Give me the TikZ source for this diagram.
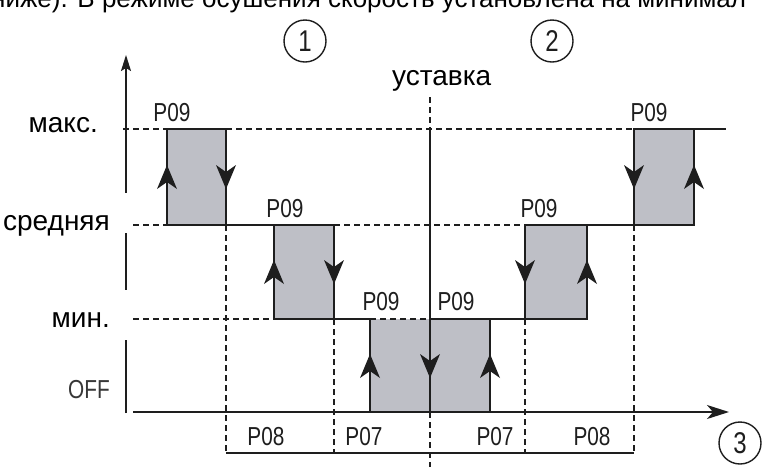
\documentclass[tikz,border=0pt]{standalone}
\usepackage{fontspec}
\setmainfont{Liberation Sans}
\newfontfamily\cond[FakeStretch=0.8]{Liberation Sans}
\usetikzlibrary{arrows.meta}
\definecolor{boxgray}{RGB}{190,191,198}
\definecolor{ink}{RGB}{30,30,30}
\definecolor{offgray}{RGB}{55,55,55}
\begin{document}
\begin{tikzpicture}[x=1pt,y=-1pt,
  ln/.style={draw=ink,line width=1.5pt},
  dsh/.style={draw=ink,line width=1.2pt,dash pattern=on 6pt off 4pt},
  headfill/.style={fill=ink,draw=none},
  fillbox/.style={fill=boxgray,draw=none},
  pl/.style={font=\cond\fontsize{26}{26}\selectfont,text=ink,inner sep=0pt},
  ru/.style={font=\fontsize{28}{28}\selectfont,text=black,inner sep=0pt},
  num/.style={circle,draw=ink,line width=1.4pt,minimum size=42pt,inner sep=0pt,font=\cond\fontsize{30}{30}\selectfont,text=ink}]
\useasboundingbox (0,0) rectangle (763,467);
\clip (0,0) rectangle (763,467);
\fill[white] (0,0) rectangle (763,467);
% top cut text
\node[font=\fontsize{26}{26}\selectfont,inner sep=0pt,anchor=base west] (toptext) at (-9,7) {ниже). В режиме осушения скорость установлена на минимал};
% gray boxes
\fill[fillbox] (167,129) rectangle (226,225);
\fill[fillbox] (274,225) rectangle (334,319);
\fill[fillbox] (370,319) rectangle (490,412);
\fill[fillbox] (525,225) rectangle (587,319);
\fill[fillbox] (634,129) rectangle (694,225);
% axes
\coordinate (yb) at (126,413);
\coordinate (yt) at (126,55);
\coordinate (xl) at (133,412);
\coordinate (xr) at (729,412);
\draw[draw=ink,line width=1.5pt,-{Stealth[length=16pt,width=10pt,inset=3pt]}] (yb) -- (yt);
\draw[draw=ink,line width=1.5pt,-{Stealth[length=22pt,width=14pt,inset=6pt]}] (xl) -- (xr);
% white label backgrounds
\fill[white] (0,193) rectangle (132,233);
\fill[white] (0,290) rectangle (132,340);
% dashed lines
\draw[dsh] (123,129) -- (167,129);
\draw[dsh] (226,129) -- (634,129);
\draw[dsh] (133,225) -- (167,225);
\draw[dsh] (334,225) -- (525,225);
\draw[dsh] (133,319) -- (274,319);
\draw[dsh] (370,319) -- (430,319);
\draw[dsh] (430,97) -- (430,129);
\draw[dsh] (430,412) -- (430,467);
\draw[dsh] (226,225) -- (226,453);
\draw[dsh] (334,319) -- (334,453);
\draw[dsh] (525,319) -- (525,453);
\draw[dsh] (634,225) -- (634,453);
% solid outline
\draw[ln] (167,129) rectangle (226,225);
\draw[ln] (226,225) -- (274,225);
\draw[ln] (274,225) rectangle (334,319);
\draw[ln] (334,319) -- (370,319);
\draw[ln] (370,412) -- (370,319);
\draw[ln] (430,319) -- (490,319) -- (490,412);
\draw[ln] (430,129) -- (430,412);
\draw[ln] (490,319) -- (525,319);
\draw[ln] (525,225) rectangle (587,319);
\draw[ln] (587,225) -- (634,225);
\draw[ln] (634,129) rectangle (694,225);
\draw[ln] (694,129) -- (726,129);
\draw[ln] (226,453) -- (634,453);
% direction arrowheads (up)
\foreach \x/\ym in {167/177, 274/272, 370/366, 490/366, 587/272, 694/177}
  \fill[headfill] (\x,\ym-12) -- (\x+10,\ym+12) -- (\x,\ym+5) -- (\x-10,\ym+12) -- cycle;
% direction arrowheads (down)
\foreach \x/\ym in {226/177, 334/272, 430/366, 525/272, 634/177}
  \fill[headfill] (\x,\ym+12) -- (\x+10,\ym-12) -- (\x,\ym-5) -- (\x-10,\ym-12) -- cycle;
% level labels
\node[ru,anchor=base east] (lmax) at (98,132) {макс.};
\node[ru,anchor=base east] (lmid) at (110,230) {средняя};
\node[ru,anchor=base east] (lmin) at (110,327) {мин.};
\node[pl,anchor=base east,text=offgray] (loff) at (110,398) {OFF};
\node[ru,anchor=base west] (set) at (392,85) {уставка};
% P09 labels
\node[pl] (p1) at (172,113) {P09};
\node[pl] (p2) at (285,209) {P09};
\node[pl] (p3) at (381,302) {P09};
\node[pl] (p4) at (456,302) {P09};
\node[pl] (p5) at (539,209) {P09};
\node[pl] (p6) at (649,113) {P09};
% bottom labels
\node[pl] (b1) at (266,437) {P08};
\node[pl] (b2) at (364,437) {P07};
\node[pl] (b3) at (495,437) {P07};
\node[pl] (b4) at (592,437) {P08};
% circled numbers
\node[num] (c1) at (305,41) {1};
\node[num] (c2) at (552,41) {2};
\node[num] (c3) at (740,443) {3};
\end{tikzpicture}
\end{document}
